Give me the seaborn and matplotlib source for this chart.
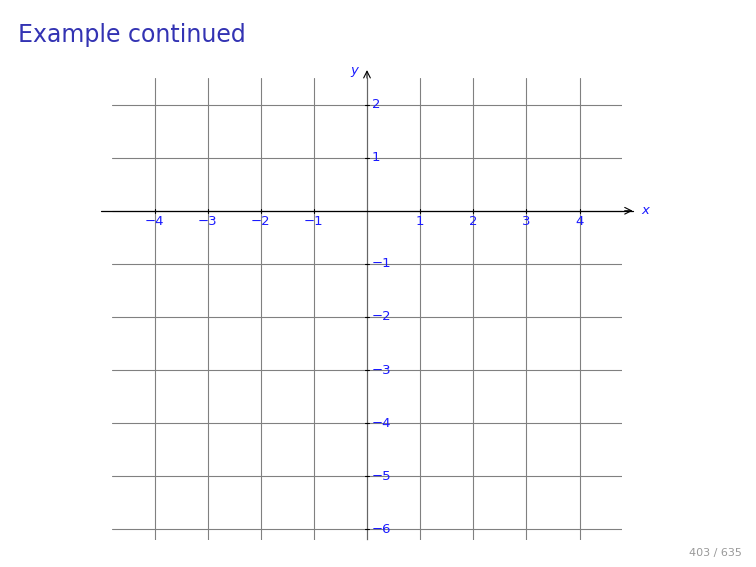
import matplotlib
matplotlib.use("Agg")
import matplotlib.pyplot as plt
import seaborn as sns
import pandas as pd

# Data
x_ticks = [-4, -3, -2, -1, 1, 2, 3, 4]
y_ticks = [-6, -5, -4, -3, -2, -1, 1, 2]
x_grid = [-4, -3, -2, -1, 0, 1, 2, 3, 4]
y_grid = [-6, -5, -4, -3, -2, -1, 0, 1, 2]
x_axis_range = [-5.0, 5.0]
y_axis_range = [-6.2, 2.65]
x_limits = [-4.8, 4.8]
y_limits = [-6.2, 2.5]
title_text = "Example continued"
page_text = "403 / 635"

sns.set_theme(style="white")
plt.rcParams['font.family'] = ['DejaVu Sans']

fig = plt.figure(figsize=(7.56, 5.67), dpi=100)
ax = fig.add_axes([112/756, 27/567, 510/756, 462/567])
ax.set_xlim(*x_limits)
ax.set_ylim(*y_limits)
for s in ax.spines.values():
    s.set_visible(False)
ax.set_xticks([])
ax.set_yticks([])
ax.set_facecolor("white")

grid_color = "#808080"
for xv in x_grid:
    ax.axvline(xv, color=grid_color, lw=0.8, zorder=1)
for yv in y_grid:
    ax.axhline(yv, color=grid_color, lw=0.8, zorder=1)

# axes lines via seaborn
xa = pd.DataFrame({"x": x_axis_range, "y": [0, 0]})
ya = pd.DataFrame({"x": [0, 0], "y": y_axis_range})
sns.lineplot(data=xa, x="x", y="y", ax=ax, color="black", lw=0.9, zorder=3, clip_on=False)
sns.lineplot(data=ya, x="x", y="y", ax=ax, color="black", lw=0.9, zorder=3, clip_on=False)
ax.set_xlabel("")
ax.set_ylabel("")
ax.annotate("", xy=(x_axis_range[1], 0), xytext=(x_axis_range[1] - 0.15, 0),
            arrowprops=dict(arrowstyle="->", color="black", lw=0.8, shrinkA=0, shrinkB=0),
            annotation_clip=False, zorder=4)
ax.annotate("", xy=(0, y_axis_range[1]), xytext=(0, y_axis_range[1] - 0.15),
            arrowprops=dict(arrowstyle="->", color="black", lw=0.8, shrinkA=0, shrinkB=0),
            annotation_clip=False, zorder=4)

lab_color = "#1a1aff"
tick_len = 0.04
for xv in x_ticks:
    ax.plot([xv, xv], [-tick_len, tick_len], color="black", lw=0.8, zorder=4)
    ax.annotate(f"\u2212{abs(xv)}" if xv < 0 else f"{xv}", xy=(xv, 0), xytext=(0, -8),
                textcoords="offset points", ha="center", va="center",
                color=lab_color, fontsize=9.5)
for yv in y_ticks:
    ax.plot([-tick_len, tick_len], [yv, yv], color="black", lw=0.8, zorder=4)
    ax.annotate(f"\u2212{abs(yv)}" if yv < 0 else f"{yv}", xy=(0, yv), xytext=(3.5, 0),
                textcoords="offset points", ha="left", va="center",
                color=lab_color, fontsize=9.5)

ax.annotate("x", xy=(x_axis_range[1], 0), xytext=(6, 0), textcoords="offset points",
            ha="left", va="center", color=lab_color, fontsize=9.5, style="italic",
            annotation_clip=False)
ax.annotate("y", xy=(0, y_axis_range[1]), xytext=(-6, 0), textcoords="offset points",
            ha="right", va="center", color=lab_color, fontsize=9.5, style="italic",
            annotation_clip=False)

fig.text(18/756, 1 - 35/567, title_text, color="#3333b3", fontsize=17,
         ha="left", va="center")
fig.text(742/756, 1 - 553/567, page_text, color="#999999", fontsize=8,
         ha="right", va="center")

fig.savefig("out.png", dpi=100)
